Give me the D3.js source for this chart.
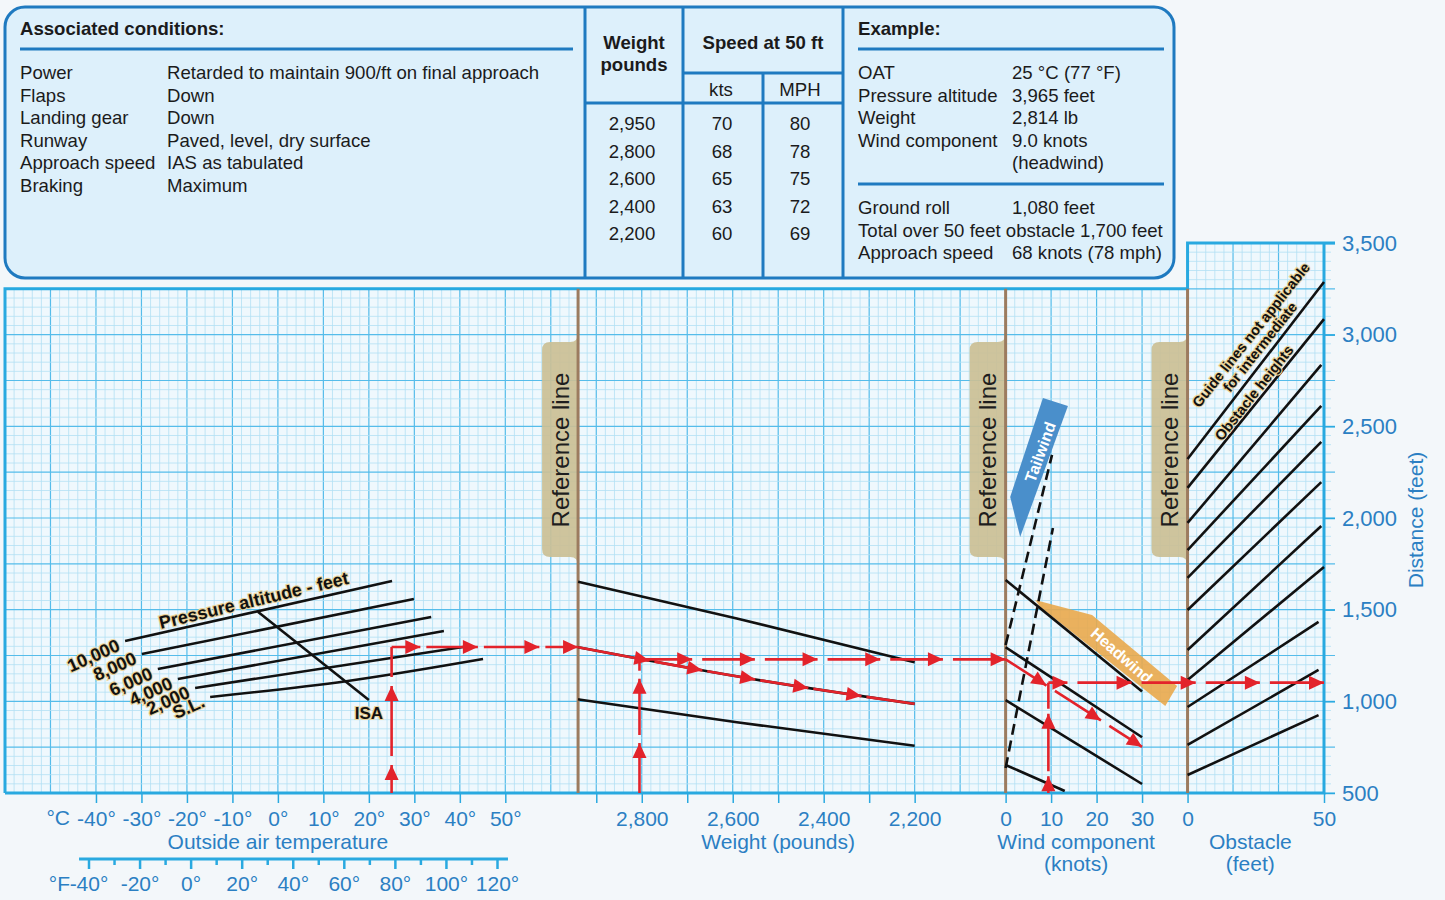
<!DOCTYPE html>
<html lang="en">
<head>
  <meta charset="UTF-8">
  <title>Landing Distance Chart</title>
  <script src="https://cdn.jsdelivr.net/npm/d3@7/dist/d3.min.js"></script>
  <style>
    body { margin: 0; background: #f3f7fa; }
    svg { display: block; font-family: 'Liberation Sans', Arial, Helvetica, sans-serif; }
  </style>
</head>
<body>
<svg></svg>
<script>
  // ---- table text ----
  const conditionNames = ['Power', 'Flaps', 'Landing gear', 'Runway', 'Approach speed', 'Braking']
  const conditionValues = ['Retarded to maintain 900/ft on final approach', 'Down', 'Down',
    'Paved, level, dry surface', 'IAS as tabulated', 'Maximum']
  const tableWeights = ['2,950', '2,800', '2,600', '2,400', '2,200']
  const tableKts = [70, 68, 65, 63, 60]
  const tableMph = [80, 78, 75, 72, 69]
  const exampleNames = ['OAT', 'Pressure altitude', 'Weight', 'Wind component', '']
  const exampleValues = ['25 °C (77 °F)', '3,965 feet', '2,814 lb', '9.0 knots', '(headwind)']
  const resultNames = ['Ground roll', 'Total over 50 feet obstacle', 'Approach speed']
  const resultValues = ['1,080 feet', '1,700 feet', '68 knots (78 mph)']

  // ---- axis ticks ----
  const tempTicksC = [-40, -30, -20, -10, 0, 10, 20, 30, 40, 50]
  const tempTicksF = [-40, -30, -20, -10, 0, 10, 20, 30, 40, 50, 60, 70, 80, 90, 100, 110, 120]
  const weightTickMarks = [2900, 2800, 2700, 2600, 2500, 2400, 2300, 2200]
  const weightTicks = [2800, 2600, 2400, 2200]
  const windTicks = [0, 10, 20, 30]
  const obstacleTicks = [0, 50]
  const distanceTicks = [500, 1000, 1500, 2000, 2500, 3000, 3500]

  // ---- curves: [x value, distance ft] ----
  const altitudeLabels = ['10,000', '8,000', '6,000', '4,000', '2,000', 'S.L.']
  const altitudeLines = [
    [[-33.6, 1329], [25.1, 1656]],
    [[-29.9, 1258], [29.9, 1558]],
    [[-26.4, 1176], [33.7, 1460]],
    [[-22.0, 1122], [36.5, 1384]],
    [[-18.2, 1073], [40.7, 1296]],
    [[-14.9, 1024], [15, 1110], [45.1, 1231]]
  ]
  const isaLine = [[-4.4, 1489], [20, 1007]]
  const weightLines = [
    [[2940, 1652], [2591, 1452], [2200, 1213]],
    [[2940, 1295], [2536, 1113], [2200, 986]],
    [[2940, 1011], [2591, 886], [2200, 758]]
  ]
  const windLines = [
    [[0, 1662], [30, 1053]],
    [[0, 1295], [30, 804]],
    [[0, 1007], [30, 549]],
    [[0, 653], [13, 511]]
  ]
  const tailwindLines = [
    [[0, 1307], [10.2, 2344]],
    [[0, 636], [10.4, 1945]]
  ]
  const obstacleLines = [
    [[0, 598], [48, 925]], [[0, 762], [48, 1171]], [[0, 969], [48, 1433]],
    [[0, 1116], [50, 1733]], [[0, 1280], [49, 1956]], [[0, 1498], [49, 2196]],
    [[0, 1673], [49, 2415]], [[0, 1825], [49, 2611]], [[0, 1973], [49, 2835]],
    [[0, 2164], [50, 3085]], [[0, 2322], [50, 3287]]
  ]

  // ---- worked example ----
  const exampleOat = 25
  const exampleWeight = 2805
  const exampleWind = 9.4
  const exampleLevels = [1296, 1229, 1102]
  const windGuideEnd = [30, 752]

  const width = 1445, height = 900
  const font = "'Liberation Sans', Arial, Helvetica, sans-serif"
  const blue = '#2b7fc3', frame = '#29a9e0', gridMajor = '#55bcea', gridMinor = '#b3e0f4'
  const boxStroke = '#1f7ac0', boxFill = '#ddf0fb', brown = '#9c7b5f', tabFill = '#cbbf95'
  const red = '#e3232b', ink = '#111'

  const svg = d3.select('svg').attr('width', width).attr('height', height)

  // grid cells shared by all panels
  const gx = d3.scaleLinear().domain([0, 29]).range([5, 1324])
  const y = d3.scaleLinear().domain([500, 3500]).range([793, 243])
  const xT = d3.scaleLinear().domain([-60, 66]).range([gx(0), gx(12.6)])
  const xF = d3.scaleLinear().domain([-40, 120]).range([88.5, 497])
  const xW = d3.scaleLinear().domain([2940, 2000]).range([gx(12.6), gx(22)])
  const xWind = d3.scaleLinear().domain([0, 40]).range([gx(22), gx(26)])
  const xObs = d3.scaleLinear().domain([0, 50]).range([gx(26), gx(29)])
  const ref1 = gx(12.6), ref2 = gx(22), ref3 = gx(26)
  const yTop = y(3250), yBot = y(500)

  // ---------- header box ----------
  const head = svg.append('g').attr('font-size', 18.6).attr('fill', '#1b1b1b')
  head.append('rect').attr('x', 5).attr('y', 7).attr('width', 1169).attr('height', 271).attr('rx', 20)
      .attr('fill', boxFill).attr('stroke', boxStroke).attr('stroke-width', 3)
  const rule = (x1, y1, x2, y2) => head.append('line')
      .attr('x1', x1).attr('y1', y1).attr('x2', x2).attr('y2', y2)
      .attr('stroke', boxStroke).attr('stroke-width', 3)
  ;[585, 683, 843].forEach(x => rule(x, 7, x, 278))
  rule(683, 73, 843, 73); rule(763, 73, 763, 278); rule(585, 103, 843, 103)
  rule(20, 49, 573, 49); rule(858, 49, 1164, 49); rule(858, 184, 1164, 184)

  const txt = (x, yy, s, anchor, bold) => head.append('text').attr('x', x).attr('y', yy)
      .attr('text-anchor', anchor || 'start').attr('font-weight', bold ? 'bold' : null).text(s)
  txt(20, 35, 'Associated conditions:', 'start', true)
  conditionNames.forEach((s, i) => txt(20, 79 + i * 22.6, s))
  conditionValues.forEach((s, i) => txt(167, 79 + i * 22.6, s))
  txt(634, 49, 'Weight', 'middle', true)
  txt(634, 71, 'pounds', 'middle', true)
  txt(763, 49, 'Speed at 50 ft', 'middle', true)
  txt(721, 96, 'kts', 'middle')
  txt(800, 96, 'MPH', 'middle')
  tableWeights.forEach((s, i) => txt(632, 130 + i * 27.5, s, 'middle'))
  tableKts.forEach((s, i) => txt(722, 130 + i * 27.5, s, 'middle'))
  tableMph.forEach((s, i) => txt(800, 130 + i * 27.5, s, 'middle'))
  txt(858, 35, 'Example:', 'start', true)
  exampleNames.forEach((s, i) => txt(858, 79 + i * 22.6, s))
  exampleValues.forEach((s, i) => txt(1012, 79 + i * 22.6, s))
  resultNames.forEach((s, i) => {
    const t = txt(858, 214 + i * 22.6, s)
    const w = t.node().getComputedTextLength()
    txt(Math.max(1012, 858 + w + 5), 214 + i * 22.6, resultValues[i])
  })

  // ---------- chart background + grid ----------
  const plot = svg.append('g')
  plot.append('path')
      .attr('d', `M${gx(0)},${yTop}H${ref3}V${y(3500)}H${gx(29)}V${yBot}H${gx(0)}Z`)
      .attr('fill', '#eff8fd')

  const vCells = d3.range(0, 29 * 5 + 1).map(i => i / 5)
  const isMajor = d => Math.abs(d - Math.round(d)) < 1e-6
  plot.append('g').selectAll('line').data(vCells).join('line')
      .attr('x1', d => gx(d)).attr('x2', d => gx(d))
      .attr('y1', d => d >= 26 ? y(3500) : yTop).attr('y2', yBot)
      .attr('stroke', d => isMajor(d) ? gridMajor : gridMinor)
      .attr('stroke-width', d => isMajor(d) ? 1.2 : 0.8)

  const hLevels = d3.range(500, 3501, 50)
  plot.append('g').selectAll('line').data(hLevels).join('line')
      .attr('x1', d => d > 3250 ? ref3 : gx(0))
      .attr('x2', d => gx(29) + ((d - 500) % 250 === 0 ? 11 : 7))
      .attr('y1', d => y(d)).attr('y2', d => y(d))
      .attr('stroke', d => (d - 500) % 250 === 0 ? gridMajor : gridMinor)
      .attr('stroke-width', d => (d - 500) % 250 === 0 ? 1.2 : 0.8)

  plot.append('path')
      .attr('d', `M${gx(0)},${yBot}V${yTop}H${ref3}V${y(3500)}H${gx(29) + 11}M${gx(29)},${y(3500)}V${yBot}H${gx(0)}`)
      .attr('fill', 'none').attr('stroke', frame).attr('stroke-width', 3)

  // ---------- axes ----------
  const styleAxis = g => {
    g.select('.domain').remove()
    g.attr('font-size', 21).attr('font-family', font)
    g.selectAll('line').attr('stroke', frame).attr('stroke-width', 1.5)
    g.selectAll('text').attr('fill', blue)
  }
  svg.append('g').attr('transform', `translate(0,${yBot})`)
      .call(d3.axisBottom(xT).tickValues(tempTicksC).tickFormat(d => d + '°').tickSize(10).tickPadding(8))
      .call(styleAxis)
  svg.append('g').attr('transform', `translate(0,${yBot})`)
      .call(d3.axisBottom(xW).tickValues(weightTickMarks)
          .tickFormat(d => weightTicks.includes(d) ? d3.format(',')(d) : '').tickSize(10).tickPadding(8))
      .call(styleAxis)
  svg.append('g').attr('transform', `translate(0,${yBot})`)
      .call(d3.axisBottom(xWind).tickValues(windTicks).tickSize(10).tickPadding(8))
      .call(styleAxis)
  svg.append('g').attr('transform', `translate(0,${yBot})`)
      .call(d3.axisBottom(xObs).tickValues(obstacleTicks).tickSize(10).tickPadding(8))
      .call(styleAxis)
  svg.append('g').attr('transform', `translate(${gx(29)},0)`)
      .call(d3.axisRight(y).tickValues(distanceTicks).tickFormat(d3.format(',')).tickSize(11).tickPadding(7))
      .call(styleAxis)
      .call(g => g.attr('font-size', 22))

  // Fahrenheit scale
  const fAxis = svg.append('g').attr('transform', 'translate(0,859)')
      .call(d3.axisBottom(xF).tickValues(tempTicksF)
          .tickFormat(d => d % 20 === 0 ? d + '°' : '').tickSize(10).tickPadding(7))
      .call(styleAxis)
  fAxis.selectAll('.tick line').attr('y2', d => d % 20 === 0 ? 10 : 6).attr('stroke-width', 2.5)
  fAxis.append('line').attr('x1', xF(-43.7)).attr('x2', xF(124.3))
      .attr('stroke', frame).attr('stroke-width', 3)

  const label = (x, yy, s, size, anchor) => svg.append('text').attr('x', x).attr('y', yy)
      .attr('text-anchor', anchor || 'middle').attr('font-size', size || 21).attr('fill', blue).text(s)
  label(70, 825, '°C', 21, 'end')
  label(70, 891, '°F', 21, 'end')
  label(xT(0), 849, 'Outside air temperature')
  label(xW(2500), 849, 'Weight (pounds)')
  label(xWind(15.5), 849, 'Wind component')
  label(xWind(15.5), 871, '(knots)')
  label(xObs(23), 849, 'Obstacle')
  label(xObs(23), 871, '(feet)')
  label(0, 0, 'Distance (feet)', 21).attr('transform', 'translate(1423,520) rotate(-90)')

  // ---------- reference lines ----------
  const tabPath = rx => {
    const t = 342, b = 557, w = 36
    return `M${rx},${t - 9}Q${rx},${t} ${rx - 8},${t}H${rx - w + 8}Q${rx - w},${t} ${rx - w},${t + 8}` +
        `V${b - 8}Q${rx - w},${b} ${rx - w + 8},${b}H${rx - 8}Q${rx},${b} ${rx},${b + 9}Z`
  }
  ;[ref1, ref2, ref3].forEach(rx => {
    svg.append('path').attr('d', tabPath(rx)).attr('fill', tabFill).attr('opacity', 0.92)
    svg.append('text').attr('transform', `translate(${rx - 9.5},450) rotate(-90)`)
        .attr('text-anchor', 'middle').attr('font-size', 24).attr('fill', '#1e1e1e').text('Reference line')
    svg.append('line').attr('x1', rx).attr('x2', rx).attr('y1', yTop).attr('y2', yBot)
        .attr('stroke', brown).attr('stroke-width', 3)
  })

  // ---------- wind arrows (shapes) ----------
  const toPx = (sx, pts) => pts.map(([a, b]) => [sx(a), y(b)].join(',')).join(' ')
  svg.append('polygon')
      .attr('points', toPx(xWind, [[8.2, 2655], [13.7, 2611], [3.2, 1896], [1.0, 2115]]))
      .attr('fill', '#4a8fcb')
  svg.append('polygon')
      .attr('points', toPx(xWind, [[6.5, 1553], [19.0, 1471], [37.7, 1084], [35.1, 975], [7.6, 1515]]))
      .attr('fill', '#e9a84c').attr('opacity', 0.9)
  svg.append('text').attr('transform', `translate(${xWind(7.6)},${y(2360)}) rotate(-70)`)
      .attr('text-anchor', 'middle').attr('dy', '0.35em').attr('font-size', 16).attr('font-weight', 'bold')
      .attr('fill', '#fff').text('Tailwind')
  svg.append('text').attr('transform', `translate(${xWind(25.5)},${y(1250)}) rotate(41)`)
      .attr('text-anchor', 'middle').attr('dy', '0.35em').attr('font-size', 16).attr('font-weight', 'bold')
      .attr('fill', '#fff').text('Headwind')

  // ---------- guide lines ----------
  const guides = svg.append('g').attr('fill', 'none').attr('stroke', ink).attr('stroke-width', 2.6)
  const lineT = d3.line().x(d => xT(d[0])).y(d => y(d[1])).curve(d3.curveMonotoneX)
  const lineW = d3.line().x(d => xW(d[0])).y(d => y(d[1])).curve(d3.curveMonotoneX)
  const lineWind = d3.line().x(d => xWind(d[0])).y(d => y(d[1]))
  const lineObs = d3.line().x(d => xObs(d[0])).y(d => y(d[1]))
  altitudeLines.forEach(l => guides.append('path').attr('d', lineT(l)))
  guides.append('path').attr('d', lineT.curve(d3.curveLinear)(isaLine))
  weightLines.forEach(l => guides.append('path').attr('d', lineW(l)))
  windLines.forEach(l => guides.append('path').attr('d', lineWind(l)))
  tailwindLines.forEach(l => guides.append('path').attr('d', lineWind(l)).attr('stroke-dasharray', '11 6'))
  obstacleLines.forEach(l => guides.append('path').attr('d', lineObs(l)))

  // ---------- chart labels ----------
  const halo = sel => sel.attr('stroke', '#ecd49a').attr('stroke-width', 2.2)
      .attr('paint-order', 'stroke').attr('fill', '#111').attr('font-weight', 'bold')
  altitudeLines.forEach((l, i) => {
    const sx = xT(l[0][0]) - 4, sy = y(l[0][1]) + 9
    svg.append('text').attr('transform', `translate(${sx},${sy}) rotate(-24)`)
        .attr('text-anchor', 'end').attr('font-size', 18).call(halo).text(altitudeLabels[i])
  })
  svg.append('text').attr('transform', `translate(${xT(-5)},${y(1518)}) rotate(-13.5)`)
      .attr('text-anchor', 'middle').attr('font-size', 18).call(halo).text('Pressure altitude - feet')
  svg.append('text').attr('x', xT(isaLine[1][0])).attr('y', y(isaLine[1][1]) + 19)
      .attr('text-anchor', 'middle').attr('font-size', 17).call(halo).text('ISA')
  const guideNote = ['Guide lines not applicable', 'for intermediate', 'Obstacle heights']
  const noteAt = [[1255, 338], [1264, 350], [1258, 396]]
  guideNote.forEach((s, i) => svg.append('text')
      .attr('transform', `translate(${noteAt[i][0]},${noteAt[i][1]}) rotate(-51.6)`)
      .attr('text-anchor', 'middle').attr('font-size', 14.5).call(halo).text(s))

  // ---------- worked example (red arrows) ----------
  // each run is split into dashes with relative lengths `parts`; arrowheads mark dash ends
  const gRed = svg.append('g')
  const run = (pts, parts, gap, arrows, curve) => {
    const path = gRed.append('path').attr('d', d3.line().curve(curve || d3.curveLinear)(pts))
        .attr('fill', 'none').attr('stroke', red).attr('stroke-width', 2.6)
    const node = path.node()
    const L = node.getTotalLength()
    const k = (L - (parts.length - 1) * gap) / d3.sum(parts)
    const dashes = parts.map(p => p * k)
    path.attr('stroke-dasharray', dashes.flatMap(d => [d, gap]).join(' '))
    let at = 0
    dashes.forEach((d, i) => {
      at += d
      if (arrows[i]) {
        const p = node.getPointAtLength(at), q = node.getPointAtLength(Math.max(0, at - 3))
        const ang = Math.atan2(p.y - q.y, p.x - q.x) * 180 / Math.PI
        gRed.append('path').attr('d', 'M0,0L-15,-7L-15,7Z')
            .attr('transform', `translate(${p.x},${p.y}) rotate(${ang})`).attr('fill', red)
      }
      at += gap
    })
  }
  const [lvT, lvW, lvWind] = exampleLevels
  run([[xT(exampleOat), y(500)], [xT(exampleOat), y(lvT)]], [28, 70, 30], 9, [1, 1, 0])
  run([[xT(exampleOat), y(lvT)], [ref1, y(lvT)]], [29, 52, 56, 33], 6, [1, 1, 1, 1])
  run(weightLines[1].map(d => [xW(d[0]), y(d[1])]), [73, 49, 49, 49, 49, 49], 5,
      [1, 1, 1, 1, 1, 0], d3.curveMonotoneX)
  run([[xW(exampleWeight), y(500)], [xW(exampleWeight), y(lvW)]], [53, 60, 12], 8, [1, 1, 0])
  run([[xW(exampleWeight), y(lvW)], [ref2, y(lvW)]], [1, 1, 1, 1, 1, 1], 10, [1, 1, 1, 1, 1, 1])
  run([[ref2, y(lvW)], [xWind(windGuideEnd[0]), y(windGuideEnd[1])]], [40, 45, 32], 10, [1, 1, 1])
  run([[xWind(exampleWind), y(500)], [xWind(exampleWind), y(lvWind)]], [16, 55, 25], 5, [1, 1, 0])
  run([[xWind(exampleWind), y(lvWind)], [xObs(50), y(lvWind)]], [19, 54, 54, 54, 54], 10, [1, 1, 1, 1, 1])
</script>
</body>
</html>
